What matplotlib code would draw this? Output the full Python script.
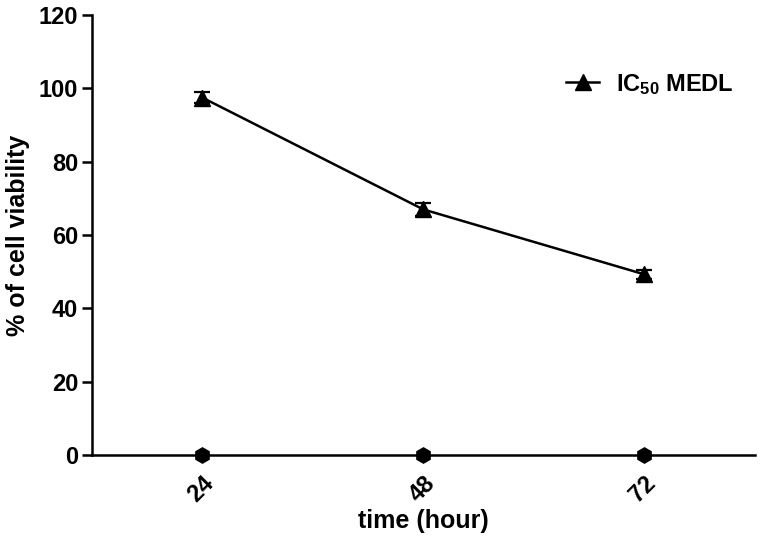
import matplotlib.pyplot as plt
from matplotlib.lines import Line2D
import numpy as np

plt.rcParams['font.family'] = ['Liberation Sans', 'DejaVu Sans']
plt.rcParams['font.weight'] = 'bold'
plt.rcParams['mathtext.default'] = 'regular'

# ---------------- data ----------------
hours = [24, 48, 72]
viability = [97.5, 67.0, 49.3]
viability_err = [1.5, 1.8, 1.3]
baseline = [0, 0, 0]

# ---------------- figure ----------------
fig = plt.figure(figsize=(7.6, 5.42), dpi=100)
ax = fig.add_axes([0.121, 0.1605, 0.872, 0.8115])

ax.errorbar(hours, viability, yerr=viability_err, color='black', lw=1.8,
            marker='^', markersize=11, capsize=6, capthick=1.6, elinewidth=1.6)
ax.plot(hours, baseline, linestyle='none', marker='h', markersize=11,
        color='black', clip_on=False, zorder=5)

ax.set_xlim(12, 84)
ax.set_ylim(0, 120)
ax.set_xticks(hours)
ax.set_yticks(np.arange(0, 121, 20))

for side in ['top', 'right']:
    ax.spines[side].set_visible(False)
for side in ['left', 'bottom']:
    ax.spines[side].set_linewidth(1.8)

ax.tick_params(axis='y', length=7, width=1.8, labelsize=17, pad=3)
ax.tick_params(axis='x', length=0, labelsize=17, pad=12)
for lbl in ax.get_xticklabels():
    lbl.set_rotation(45)
    lbl.set_ha('right')
    lbl.set_rotation_mode('anchor')
    lbl.set_fontweight('bold')
for lbl in ax.get_yticklabels():
    lbl.set_fontweight('bold')

ax.set_xlabel('time (hour)', fontsize=18, fontweight='bold', labelpad=2)
ax.set_ylabel('% of cell viability', fontsize=18, fontweight='bold', labelpad=6)

handle = Line2D([], [], color='black', lw=1.8, marker='^', markersize=11)
leg = ax.legend([handle], ['IC$_{50}$ MEDL'], loc='upper right',
                bbox_to_anchor=(1.0, 0.92), frameon=False,
                prop={'size': 17, 'weight': 'bold'}, handlelength=1.4,
                handletextpad=0.7)

fig.savefig('out.png', dpi=100)
